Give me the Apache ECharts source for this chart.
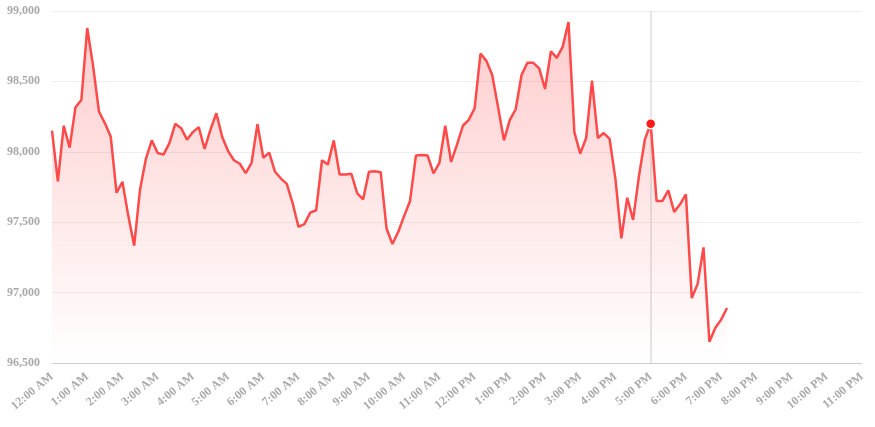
<!DOCTYPE html>
<html>
<head>
<meta charset="utf-8">
<script src="https://cdn.jsdelivr.net/npm/echarts@6/dist/echarts.min.js"></script>
<style>
  html, body { margin: 0; padding: 0; background: #fff; }
  #chart { width: 875px; height: 427px; }
</style>
</head>
<body>
<div id="chart"></div>
<script>
// hour labels on the x axis
const hourLabels = [
  '12:00 AM', '1:00 AM', '2:00 AM', '3:00 AM', '4:00 AM', '5:00 AM',
  '6:00 AM', '7:00 AM', '8:00 AM', '9:00 AM', '10:00 AM', '11:00 AM',
  '12:00 PM', '1:00 PM', '2:00 PM', '3:00 PM', '4:00 PM', '5:00 PM',
  '6:00 PM', '7:00 PM', '8:00 PM', '9:00 PM', '10:00 PM', '11:00 PM'
];
const stepMinutes = ['00', '10', '20', '30', '40', '50'];

// price every 10 minutes from 12:00 AM to 7:10 PM
const prices = [
  98150, 97790, 98185, 98030, 98317, 98368, 98879, 98610, 98286, 98204,
  98109, 97709, 97787, 97545, 97333, 97733, 97950, 98081, 97992, 97980,
  98062, 98199, 98168, 98086, 98140, 98175, 98020, 98157, 98274, 98105,
  98005, 97940, 97915, 97848, 97922, 98197, 97958, 97994, 97858, 97810,
  97772, 97635, 97467, 97486, 97568, 97585, 97940, 97909, 98081, 97839,
  97839, 97844, 97705, 97662, 97858, 97862, 97855, 97455, 97345, 97432,
  97545, 97651, 97973, 97978, 97973, 97846, 97921, 98185, 97928, 98051,
  98185, 98227, 98309, 98698, 98646, 98545, 98317, 98081, 98227, 98302,
  98545, 98632, 98632, 98592, 98446, 98714, 98667, 98745, 98921, 98138,
  97987, 98098, 98505, 98098, 98133, 98091, 97804, 97385, 97674, 97517,
  97827, 98086, 98200, 97651, 97651, 97726, 97573, 97627, 97698, 96961,
  97062, 97321, 96651, 96749, 96808, 96891
];

const highlightIndex = 102; // 5:00 PM

const times = [];
hourLabels.forEach(function (h, i) {
  if (i === hourLabels.length - 1) { times.push(h); return; }
  stepMinutes.forEach(function (m) { times.push(h.replace(':00', ':' + m)); });
});

const labelFont = {
  color: '#aaa',
  fontFamily: '"Liberation Serif", "Times New Roman", serif',
  fontWeight: 'bold',
  fontSize: 12
};

const chart = echarts.init(document.getElementById('chart'));
chart.setOption({
  animation: false,
  grid: { left: 52, right: 13, top: 11, bottom: 64 },
  tooltip: {
    trigger: 'axis',
    showContent: false,
    axisPointer: {
      type: 'line',
      z: 0,
      lineStyle: { color: '#ddd', width: 1.5, type: 'solid' }
    }
  },
  xAxis: {
    type: 'category',
    boundaryGap: false,
    data: times,
    axisLine: { lineStyle: { color: '#ccc' } },
    axisTick: { show: false },
    axisLabel: Object.assign({ interval: 5, rotate: 40, margin: 12 }, labelFont),
    splitLine: { show: false }
  },
  yAxis: {
    type: 'value',
    min: 96500,
    max: 99000,
    interval: 500,
    axisLine: { show: false },
    axisTick: { show: false },
    axisLabel: Object.assign({ margin: 12 }, labelFont),
    splitLine: { lineStyle: { color: '#eee' } }
  },
  series: [{
    type: 'line',
    data: prices,
    showSymbol: false,
    symbol: 'circle',
    symbolSize: 10,
    itemStyle: { color: '#ff1a1a', borderColor: '#fff', borderWidth: 1.5 },
    lineStyle: { color: '#ef4444', width: 2.5 },
    emphasis: { scale: false, lineStyle: { width: 2.5 } },
    areaStyle: {
      color: new echarts.graphic.LinearGradient(0, 0, 0, 1, [
        { offset: 0, color: 'rgba(239, 68, 68, 0.4)' },
        { offset: 1, color: 'rgba(239, 68, 68, 0)' }
      ])
    }
  }]
});

chart.dispatchAction({ type: 'showTip', seriesIndex: 0, dataIndex: highlightIndex });
</script>
</body>
</html>
